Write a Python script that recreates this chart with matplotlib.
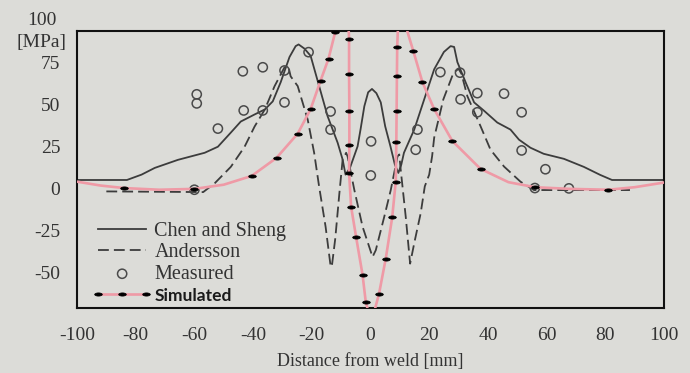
import matplotlib
matplotlib.use("Agg")
import matplotlib.pyplot as plt
from matplotlib.path import Path
import numpy as np

plt.rcParams['font.family'] = ['Liberation Serif', 'DejaVu Serif']
plt.rcParams['axes.unicode_minus'] = False

# ---- data ----
x_ticks = [-100, -80, -60, -40, -20, 0, 20, 40, 60, 80, 100]
y_ticks = [75, 50, 25, 0, -25, -50]

chen_x = [-100.5, -83, -78, -73.5, -65.6, -56.5, -52, -47.6, -44.2, -39.5, -36, -33.3,
          -30.6, -27.6, -25.5, -24.5, -22.5, -20.4, -17.5, -14.6, -11.2, -9.5, -8.5,
          -7, -4.4, -3.4, -2.1, -0.8, 0.5, 2, 3.5, 5, 6.8, 8.3, 9.5, 10.5, 11.4, 14.9,
          18.3, 21.7, 25, 27.3, 28.5, 29.6, 32.4, 35.3, 38.7, 43.2, 47.7, 50.6, 54.5,
          59, 65.9, 72.7, 78.3, 82.3, 100]
chen_y = [4.8, 4.8, 8, 12, 16.8, 21, 24.6, 33, 39.6, 43.8, 46.8, 51.6,
          63, 78, 84.5, 85.5, 83, 78.7, 60.7, 42.7, 27, 17, 8,
          12, 24.8, 34.8, 48.7, 57, 59, 56.5, 51, 36.8, 24.8, 14, 9, 14, 21, 34.8,
          52.8, 70.7, 81, 84.5, 84, 75, 63, 51, 46, 39, 34.8, 28.8, 24,
          20.4, 17.4, 12.6, 7.8, 4.8, 4.8]

and_x = [-90, -57, -53, -47.6, -42.9, -39.5, -36, -32.7, -29.3, -28, -27.2, -24.8,
         -21.4, -19.2, -17.5, -15.3, -13.7, -13.2, -12, -10.6, -9.5, -8.3, -7.8, -5.5,
         -2.7, 0.7, 1.8, 4.7, 6.9, 9.2, 9.8, 10.3, 12, 13.5, 15, 17.1, 18.5, 20, 21,
         21.7, 24.8, 28.3, 30, 31, 33, 37.5, 40.9, 45.5, 51.1, 55.7, 88.4]
and_y = [-2, -2.4, 3, 12.6, 24.6, 36.6, 46.8, 60.6, 71.9, 72.5, 66.5, 60.7,
         40.8, 21, 0.8, -23, -45, -47, -30, -3, 16.8, 21, 18.8, -1.2,
         -23, -41, -37, -17, -1.2, 18.8, 20, 10.8, -17, -45, -32, -15, 1, 8, 19,
         30, 52.7, 68.7, 71, 68, 54.7, 36.8, 22.8, 12.8, 3.8, -1.2, -1.2]

meas_x = [-59.2, -59.2, -52, -43.5, -36.7, -43.2, -36.7, -29.3, -29.3, -21.1, -13.6,
          -13.6, -60, 0.2, 0.1, 15.4, 16, 23.8, 30.5, 30.7, 36.4, 45.5, 36.4, 51.5,
          51.5, 59.6, 67.6, 56]
meas_y = [55.8, 50.4, 35.4, 69.5, 71.9, 46.2, 46.2, 51, 70, 80.9, 45.6,
          34.8, -1, 27.8, 7.5, 22.8, 34.8, 69, 68.7, 52.8, 56.5, 56.2, 45.1, 45.1,
          22.4, 11.2, -0.2, 0]

sim_x = [-100, -92, -84, -72, -60, -50, -40.5, -32, -24.8, -20.4, -17, -14.3, -12,
         -9.6, -7.4, -7.3, -7.3, -7.2, -7.2, -7.3, -6.6, -4.9, -2.7, -1.6, 0.3,
         2.9, 5.2, 7.4, 8.6, 8.8, 8.9, 9.0, 9.1, 9.3, 10.9, 12.6, 14.6, 17.7, 21.7,
         27.9, 37.5, 47, 56, 68, 81, 90, 99, 100]
sim_y = [3.8, 1.5, 0, -1, -0.5, 2, 7.2, 18, 32.4, 47, 64, 77, 93,
         125, 93, 88.7, 67.7, 45.6, 25.8, 9, -11.2, -29.2, -51.7, -68, -80,
         -63, -42, -17.4, 3.8, 27.6, 45.6, 66.5, 84, 93, 125, 93, 81.5, 63, 47,
         28, 11.4, 3.5, 0.5, -0.5, -1, 0.5, 3, 3.3]
sim_mark = [0, 0, 1, 0, 1, 0, 1, 1, 1, 1, 1, 1, 1,
            0, 0, 1, 1, 1, 1, 1, 1, 1, 1, 1, 0,
            1, 1, 1, 1, 1, 1, 1, 1, 0, 0, 0, 1, 1, 1,
            1, 1, 0, 1, 0, 1, 0, 0, 0]

bg = '#dcdcd8'
ink = '#3c3c3c'

fig = plt.figure(figsize=(6.9, 3.73), dpi=100, facecolor=bg)
ax = fig.add_axes([0.1116, 0.1743, 0.8507, 0.7426])
ax.set_facecolor(bg)

ax.plot(chen_x, chen_y, color=ink, lw=1.3, label='Chen and Sheng', zorder=2)
ax.plot(and_x, and_y, color=ink, lw=1.3, dashes=(6, 2.8), label='Andersson', zorder=2)
ax.scatter(meas_x, meas_y, s=44, facecolors='none', edgecolors='#4a4a4a',
           linewidths=1.1, label='Measured', zorder=3)

circ = Path.unit_circle()
ellipse = Path(circ.vertices * np.array([1.0, 0.42]), circ.codes)
marks = [i for i, m in enumerate(sim_mark) if m]
ax.plot(sim_x, sim_y, color='#ef9aa6', lw=1.9, marker=ellipse, markersize=5.5,
        markerfacecolor='black', markeredgecolor='black', markeredgewidth=0.5,
        markevery=marks, label='Simulated', zorder=4)

ax.set_xlim(-100, 100)
ax.set_ylim(-71.4, 93.5)
ax.set_xticks(x_ticks)
ax.set_yticks(y_ticks)
ax.tick_params(length=0, labelsize=14, labelcolor='#333333')
ax.tick_params(axis='y', pad=12)
ax.tick_params(axis='x', pad=14)
for s in ax.spines.values():
    s.set_linewidth(1.5)
    s.set_color('#111111')

ax.text(-107, 100, '100', ha='right', va='center', fontsize=14, color='#333333',
        clip_on=False)
ax.text(-103.5, 86.5, '[MPa]', ha='right', va='center', fontsize=14, color='#333333',
        clip_on=False)

ax.set_xlabel('Distance from weld [mm]', fontsize=13, color='#333333', labelpad=6)

leg = ax.legend(loc='lower left', bbox_to_anchor=(0.022, 0.008), frameon=False,
                fontsize=14.5, handlelength=3.0, handletextpad=0.1, labelspacing=0.13,
                borderpad=0.1, borderaxespad=0, numpoints=3, scatterpoints=1)
for t in leg.get_texts():
    t.set_color('#333333')
sim_txt = leg.get_texts()[3]
sim_txt.set_fontfamily(['Lato', 'DejaVu Sans'])
sim_txt.set_fontweight('bold')
sim_txt.set_fontsize(12.5)
sim_txt.set_color('#1a1a1a')

fig.savefig('out.png', dpi=100, facecolor=bg)
